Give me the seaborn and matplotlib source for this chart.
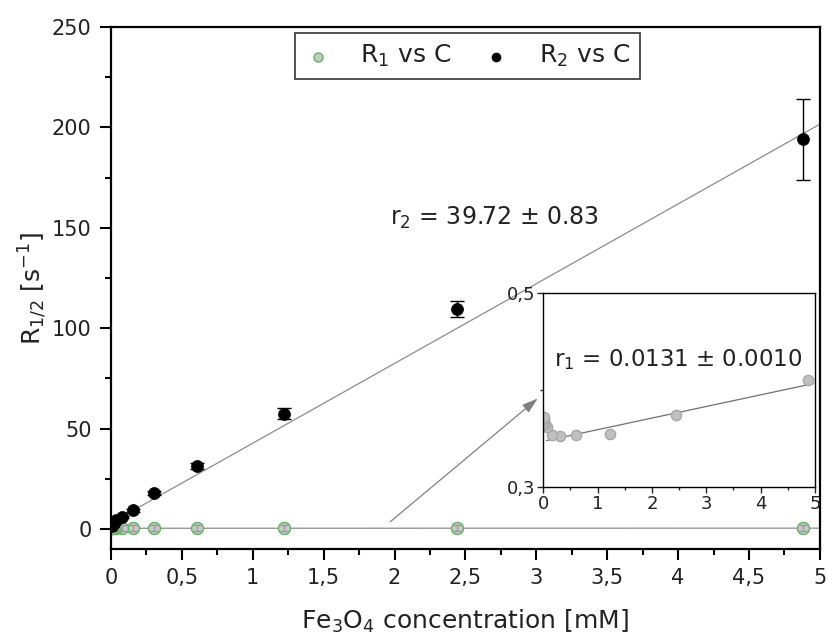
import numpy as np
import pandas as pd
import matplotlib
matplotlib.use("Agg")
import matplotlib.pyplot as plt
import seaborn as sns
from matplotlib.ticker import FixedLocator, MultipleLocator

# ---- data ----
conc = [4.88, 2.44, 1.22, 0.61, 0.305, 0.153, 0.076, 0.038, 0.019, 0.0095, 0.0048]
r2_vals = [194.0, 109.4, 57.5, 31.4, 18.1, 9.3, 6.0, 4.3, 3.0, 2.0, 1.3]
r2_err = [20.0, 4.0, 2.5, 1.5, 1.0, 0.8, 0.6, 0.5, 0.4, 0.3, 0.3]
r1_vals = [0.410, 0.374, 0.355, 0.353, 0.352, 0.353, 0.362, 0.365, 0.367, 0.370, 0.372]
r1_err_main = [1.5] * 11

fit2_intercept, fit2_slope = 3.0, 39.72
fit1_intercept, fit1_slope = 0.347, 0.0120
fit_x = [0.0, 5.0]
fit1_inset_x = [0.06, 4.97]

main_xticks = [0, 0.5, 1, 1.5, 2, 2.5, 3, 3.5, 4, 4.5, 5]
main_xlabels = ["0", "0,5", "1", "1,5", "2", "2,5", "3", "3,5", "4", "4,5", "5"]
main_yticks = [0, 50, 100, 150, 200, 250]
inset_xticks = [0, 1, 2, 3, 4, 5]
inset_yticks = [0.3, 0.5]
inset_ylabels = ["0,3", "0,5"]

df = pd.DataFrame({"C": conc, "R2": r2_vals, "R1": r1_vals})
fit2 = pd.DataFrame({"x": fit_x, "y": [fit2_intercept + fit2_slope * x for x in fit_x]})
fit1 = pd.DataFrame({"x": fit_x, "y": [fit1_intercept + fit1_slope * x for x in fit_x]})
fit1i = pd.DataFrame({"x": fit1_inset_x, "y": [fit1_intercept + fit1_slope * x for x in fit1_inset_x]})

sns.set_theme(style="ticks")
plt.rcParams["font.family"] = ["DejaVu Sans"]
plt.rcParams["mathtext.fontset"] = "dejavusans"
txt = "#222222"

fig = plt.figure(figsize=(8.29, 6.39), dpi=100)
ax = fig.add_axes([0.1339, 0.1408, 0.8551, 0.8169])

# fit lines
sns.lineplot(data=fit2, x="x", y="y", ax=ax, color="#8c8c8c", lw=0.9, zorder=1)
sns.lineplot(data=fit1, x="x", y="y", ax=ax, color="#8c8c8c", lw=0.9, zorder=1)

# R1 points
ax.errorbar(conc, r1_vals, yerr=r1_err_main, fmt="none", ecolor="#999999", elinewidth=0.8,
            capsize=3, zorder=3)
sns.scatterplot(data=df, x="C", y="R1", ax=ax, s=75, color="#c8c8c8", edgecolor="#5cb85c",
                linewidth=1.0, zorder=2, label="R$_1$ vs C")
# R2 points
ax.errorbar(conc, r2_vals, yerr=r2_err, fmt="none", ecolor="black", elinewidth=1.0,
            capsize=5, capthick=1.0, zorder=3)
sns.scatterplot(data=df, x="C", y="R2", ax=ax, s=75, color="black", edgecolor="black",
                linewidth=0.5, zorder=4, label="R$_2$ vs C")

ax.set_xlim(0, 5)
ax.set_ylim(-10, 250)
ax.xaxis.set_major_locator(FixedLocator(main_xticks))
ax.set_xticklabels(main_xlabels)
ax.xaxis.set_minor_locator(MultipleLocator(0.25))
ax.yaxis.set_major_locator(FixedLocator(main_yticks))
ax.yaxis.set_minor_locator(MultipleLocator(25))
ax.tick_params(axis="both", which="major", direction="out", length=8, width=1.5,
               labelsize=15, labelcolor=txt, color="black", pad=6)
ax.tick_params(axis="both", which="minor", direction="out", length=4, width=1.5, color="black")
for s in ax.spines.values():
    s.set_linewidth(1.6)
    s.set_color("black")
ax.set_xlabel("Fe$_3$O$_4$ concentration [mM]", fontsize=18, color=txt, labelpad=14)
ax.set_ylabel("R$_{1/2}$ [s$^{-1}$]", fontsize=18, color=txt, labelpad=2)

leg = ax.legend(loc="upper center", bbox_to_anchor=(0.503, 0.988), ncol=2, fontsize=18,
                frameon=True, fancybox=False, edgecolor="#333333", framealpha=1,
                handlelength=1.0, handletextpad=1.2, columnspacing=1.3, borderpad=0.4,
                borderaxespad=0.0, markerscale=0.75)
leg.get_frame().set_linewidth(1.2)
for t in leg.get_texts():
    t.set_color(txt)

ax.text(1.97, 155, "r$_2$ = 39.72 ± 0.83", fontsize=17, color=txt, va="center", ha="left")

ax.annotate("", xy=(3.01, 65), xytext=(1.97, 3.6),
            arrowprops=dict(arrowstyle="-|>,head_length=0.8,head_width=0.25",
                            color="#808080", lw=0.9, shrinkA=0, shrinkB=0))

# inset
axi = fig.add_axes([0.6554, 0.2383, 0.3277, 0.3027])
sns.lineplot(data=fit1i, x="x", y="y", ax=axi, color="#707070", lw=0.9, zorder=1)
sns.scatterplot(data=df, x="C", y="R1", ax=axi, s=55, color="#c0c0c0", edgecolor="#a8a8a8",
                linewidth=1.0, zorder=2, legend=False)
axi.set_xlim(0, 5)
axi.set_ylim(0.3, 0.5)
axi.xaxis.set_major_locator(FixedLocator(inset_xticks))
axi.xaxis.set_minor_locator(MultipleLocator(0.5))
axi.yaxis.set_major_locator(FixedLocator(inset_yticks))
axi.set_yticklabels(inset_ylabels)
axi.yaxis.set_minor_locator(MultipleLocator(0.1))
axi.tick_params(axis="both", which="major", direction="out", length=4, width=1.0,
                labelsize=13, labelcolor=txt, pad=2)
axi.tick_params(axis="both", which="minor", direction="out", length=2.5, width=1.0)
for s in axi.spines.values():
    s.set_linewidth(1.0)
    s.set_color("black")
axi.set_xlabel("")
axi.set_ylabel("")
axi.text(0.2, 0.431, "r$_1$ = 0.0131 ± 0.0010", fontsize=16.5, color=txt, va="center", ha="left")

fig.savefig("out.png", dpi=100)
